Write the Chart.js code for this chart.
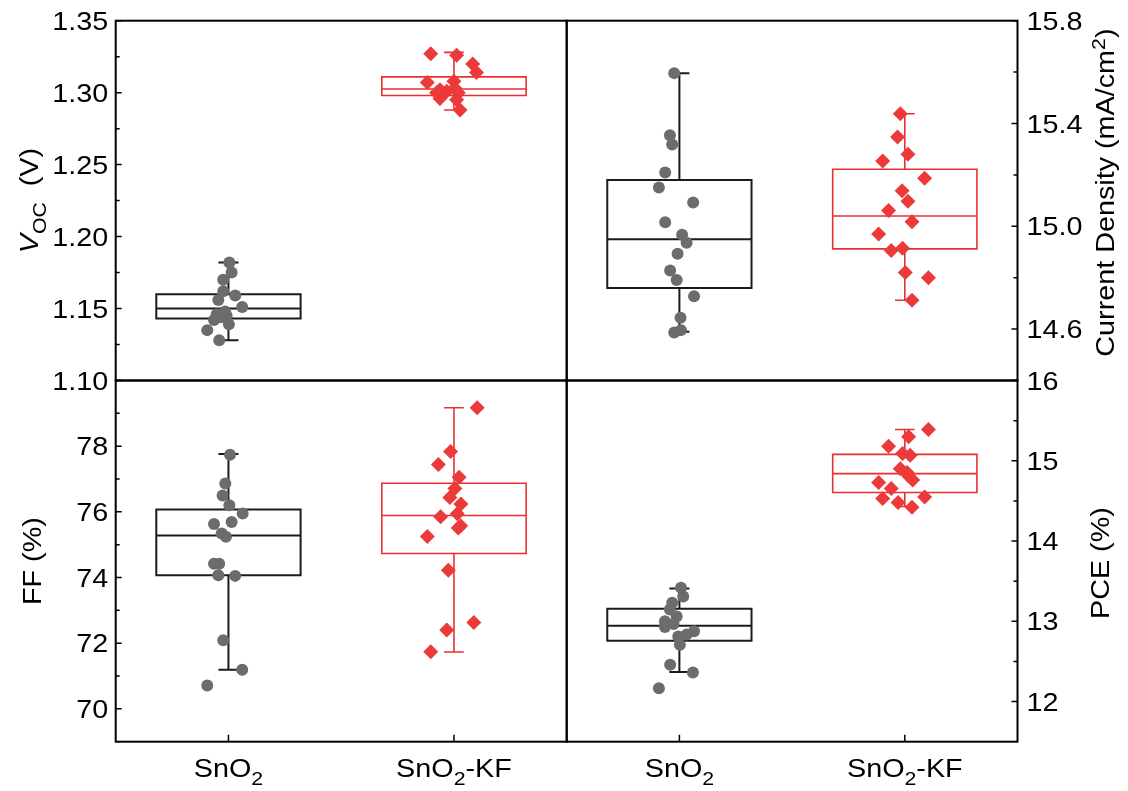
<!DOCTYPE html>
<html>
<head>
<meta charset="utf-8">
<script src="https://cdn.jsdelivr.net/npm/chart.js@4.4.1/dist/chart.umd.min.js"></script>
<style>
  body { margin: 0; background: #fff; }
  #wrap { position: relative; width: 1128px; height: 791px; }
  #wrap canvas { position: absolute; left: 0; top: 0; }
</style>
</head>
<body>
<div id="wrap">
  <canvas id="voc" width="1128" height="791"></canvas>
  <canvas id="jsc" width="1128" height="791"></canvas>
  <canvas id="ff" width="1128" height="791"></canvas>
  <canvas id="pce" width="1128" height="791"></canvas>
</div>
<script>
// --- data ---
const categories = ['SnO₂', 'SnO₂-KF'];

// box stats: [lower whisker, Q1, median, Q3, upper whisker]
const vocBoxSnO2 = [1.128, 1.143, 1.150, 1.160, 1.182];
const vocBoxKF   = [1.288, 1.298, 1.3025, 1.311, 1.328];
const jscBoxSnO2 = [14.59, 14.76, 14.95, 15.18, 15.596];
const jscBoxKF   = [14.712, 14.912, 15.04, 15.222, 15.438];
const ffBoxSnO2  = [71.19, 74.07, 75.28, 76.07, 77.76];
const ffBoxKF    = [71.73, 74.73, 75.89, 76.87, 79.17];
const pceBoxSnO2 = [12.367, 12.759, 12.946, 13.155, 13.41];
const pceBoxKF   = [14.43, 14.605, 14.84, 15.08, 15.39];

// individual devices, with horizontal jitter (category units)
const vocSnO2 = [1.182, 1.175, 1.170, 1.162, 1.159, 1.156, 1.151, 1.148, 1.146, 1.145, 1.142, 1.139, 1.135, 1.128, 1.144];
const vocJitSnO2 = [0.004, 0.014, -0.023, -0.023, 0.030, -0.045, 0.061, -0.015, -0.052, -0.008, -0.064, 0.002, -0.094, -0.041, -0.033];
const vocKF = [1.327, 1.326, 1.320, 1.314, 1.307, 1.308, 1.302, 1.301, 1.303, 1.300, 1.296, 1.295, 1.288, 1.300];
const vocJitKF = [-0.103, 0.012, 0.083, 0.100, -0.118, 0.000, -0.062, -0.032, 0.004, 0.019, -0.062, 0.012, 0.027, -0.077];

const jscSnO2 = [15.596, 15.354, 15.318, 15.209, 15.151, 15.093, 15.016, 14.967, 14.936, 14.893, 14.828, 14.791, 14.728, 14.644, 14.596, 14.587];
const jscJitSnO2 = [-0.023, -0.042, -0.032, -0.063, -0.091, 0.061, -0.063, 0.012, 0.032, -0.008, -0.041, -0.012, 0.065, 0.005, 0.007, -0.023];
const jscKF = [15.438, 15.347, 15.28, 15.254, 15.187, 15.138, 15.097, 15.061, 15.018, 14.97, 14.906, 14.915, 14.82, 14.80, 14.712];
const jscJitKF = [-0.020, -0.032, 0.014, -0.098, 0.088, -0.012, 0.014, -0.072, 0.032, -0.116, -0.060, -0.010, 0.002, 0.105, 0.032];

const ffSnO2 = [77.74, 76.86, 76.50, 76.20, 75.95, 75.63, 75.69, 75.34, 75.24, 74.42, 74.42, 74.07, 74.05, 72.09, 71.19, 70.71];
const ffJitSnO2 = [0.007, -0.014, -0.026, 0.004, 0.063, -0.064, 0.014, -0.030, -0.011, -0.064, -0.041, -0.045, 0.030, -0.023, 0.061, -0.094];
const ffKF = [79.17, 77.84, 77.44, 77.05, 76.71, 76.44, 76.24, 75.85, 75.94, 75.51, 75.58, 75.25, 74.22, 72.63, 72.40, 71.74];
const ffJitKF = [0.103, -0.015, -0.069, 0.023, 0.004, -0.018, 0.031, -0.059, 0.015, 0.019, 0.030, -0.118, -0.025, 0.088, -0.032, -0.103];

const pceSnO2 = [13.417, 13.31, 13.23, 13.146, 13.06, 13.0, 12.967, 12.93, 12.875, 12.834, 12.81, 12.709, 12.459, 12.363, 12.167];
const pceJitSnO2 = [0.007, 0.017, -0.032, -0.042, -0.012, -0.064, -0.026, -0.064, 0.065, 0.032, -0.005, 0.002, -0.041, 0.060, -0.091];
const pceKF = [15.39, 15.30, 15.18, 15.09, 15.07, 14.90, 14.855, 14.81, 14.76, 14.73, 14.655, 14.53, 14.55, 14.48, 14.42];
const pceJitKF = [0.105, 0.017, -0.072, -0.010, 0.024, -0.020, 0.010, 0.017, 0.035, -0.116, -0.060, -0.098, 0.088, -0.030, 0.032];

// tick labels
const vocTicks = [1.10, 1.15, 1.20, 1.25, 1.30, 1.35];
const jscTicks = [14.6, 15.0, 15.4, 15.8];
const ffTicks  = [70, 72, 74, 76, 78];
const pceTicks = [12, 13, 14, 15, 16];

// --- styling ---
const FONT = '"Liberation Sans", Arial, Helvetica, sans-serif';
const FS = 25;
const SX = 1.15;   // the original lettering runs a bit wider than Arial
const GREY = '#6c6c6c';
const RED = '#ec3a3a';
const BOX_W = 0.32;
const CAP_W = 0.04;

function toSegs(str) {
  const segs = [];
  let buf = '';
  for (const ch of str) {
    if (ch === '₂' || ch === '²') {
      if (buf) segs.push({ t: buf });
      buf = '';
      segs.push({ t: '2', s: ch === '₂' ? 'sub' : 'sup' });
    } else buf += ch;
  }
  if (buf) segs.push({ t: buf });
  return segs;
}

// draws mixed normal/sub/sup text centred on cx, baseline at base
function drawRich(ctx, segs, cx, base, size) {
  let w = 0;
  const parts = segs.map(sg => {
    const fs = sg.s ? size * 0.74 : size;
    const font = (sg.i ? 'italic ' : '') + fs + 'px ' + FONT;
    ctx.font = font;
    const pw = ctx.measureText(sg.t).width;
    w += pw;
    const dy = sg.s === 'sub' ? size * 0.32 : sg.s === 'sup' ? -size * 0.38 : 0;
    return { t: sg.t, font, pw, dy };
  });
  ctx.save();
  ctx.translate(cx, base);
  ctx.scale(SX, 1);
  let xx = -w / 2;
  ctx.textAlign = 'left';
  ctx.textBaseline = 'alphabetic';
  parts.forEach(p => {
    ctx.font = p.font;
    ctx.fillText(p.t, xx, p.dy);
    xx += p.pw;
  });
  ctx.restore();
}

// frame, inward ticks, tick labels, titles and category labels
const panelDeco = {
  id: 'panelDeco',
  afterDraw(chart, args, o) {
    const { ctx, chartArea: a, scales: { x, y } } = chart;
    ctx.save();
    ctx.strokeStyle = '#000';
    ctx.fillStyle = '#000';

    const major = y.ticks.map(t => t.value);
    const step = major[1] - major[0];
    const minor = [];
    for (let v = major[0] - step / 2; v < y.max + 1e-9; v += step) {
      if (v > y.min + 1e-6 && v < y.max - 1e-6) minor.push(v);
    }
    const left = o.side === 'left';
    const x0 = left ? a.left : a.right;
    const dir = left ? 1 : -1;
    ctx.lineWidth = 1.5;
    ctx.beginPath();
    major.forEach(v => {
      const py = y.getPixelForValue(v);
      ctx.moveTo(x0, py); ctx.lineTo(x0 + dir * 6, py);
    });
    minor.forEach(v => {
      const py = y.getPixelForValue(v);
      ctx.moveTo(x0, py); ctx.lineTo(x0 + dir * 4, py);
    });
    if (o.showCats) {
      categories.forEach((c, i) => {
        const px = x.getPixelForValue(i + 1);
        ctx.moveTo(px, a.bottom); ctx.lineTo(px, a.bottom - 7);
      });
    }
    ctx.stroke();

    ctx.lineWidth = 2;
    ctx.strokeRect(a.left, a.top, a.right - a.left, a.bottom - a.top);

    // tick labels
    ctx.font = FS + 'px ' + FONT;
    ctx.textBaseline = 'alphabetic';
    ctx.textAlign = left ? 'right' : 'left';
    major.forEach(v => {
      const py = y.getPixelForValue(v);
      ctx.save();
      ctx.translate(left ? a.left - 7.5 : a.right + 9, py + FS * 0.36);
      ctx.scale(SX, 1);
      ctx.fillText(v.toFixed(o.dec), 0, 0);
      ctx.restore();
    });

    if (o.showCats) {
      categories.forEach((c, i) => {
        drawRich(ctx, toSegs(c), x.getPixelForValue(i + 1), a.bottom + 35, FS);
      });
    }

    ctx.translate(o.titleX, (a.top + a.bottom) / 2 + (o.titleShift || 0));
    ctx.rotate(-Math.PI / 2);
    drawRich(ctx, o.title, 0, FS * 0.36, FS);
    ctx.restore();
  }
};

function boxPath(c, s) {
  const [lo, q1, med, q3, hi] = s;
  const gap = { x: c, y: null };
  return [
    { x: c - BOX_W, y: q1 }, { x: c + BOX_W, y: q1 }, { x: c + BOX_W, y: q3 }, { x: c - BOX_W, y: q3 }, { x: c - BOX_W, y: q1 }, gap,
    { x: c - BOX_W, y: med }, { x: c + BOX_W, y: med }, gap,
    { x: c, y: q3 }, { x: c, y: hi }, gap,
    { x: c, y: q1 }, { x: c, y: lo }, gap,
    { x: c - CAP_W, y: hi }, { x: c + CAP_W, y: hi }, gap,
    { x: c - CAP_W, y: lo }, { x: c + CAP_W, y: lo }
  ];
}

function makePanel(id, p) {
  const groups = [
    { vals: p.vals[0], jit: p.jit[0], box: p.box[0], line: '#1b1b1b', lw: 2, fill: GREY, style: 'circle', r: 6 },
    { vals: p.vals[1], jit: p.jit[1], box: p.box[1], line: '#ea2f2f', lw: 1.6, fill: RED, style: 'rectRot', r: 7.5 }
  ];
  const datasets = [];
  groups.forEach((g, i) => {
    datasets.push({
      type: 'line',
      data: boxPath(i + 1, g.box),
      borderColor: g.line,
      borderWidth: g.lw,
      borderJoinStyle: 'miter',
      borderCapStyle: 'square',
      pointRadius: 0,
      tension: 0,
      fill: false,
      spanGaps: false,
      order: 2
    });
    datasets.push({
      type: 'scatter',
      data: g.vals.map((v, k) => ({ x: i + 1 + g.jit[k], y: v })),
      pointStyle: g.style,
      pointRadius: g.r,
      pointHoverRadius: g.r,
      backgroundColor: g.fill,
      borderColor: g.fill,
      borderWidth: 0,
      order: 1
    });
  });

  new Chart(document.getElementById(id), {
    type: 'scatter',
    data: { datasets },
    options: {
      responsive: false,
      animation: false,
      devicePixelRatio: 1,
      layout: { padding: p.pad },
      plugins: {
        legend: { display: false },
        tooltip: { enabled: false },
        panelDeco: { side: p.side, title: p.title, titleX: p.titleX, titleShift: p.titleShift, showCats: p.showCats, dec: p.dec }
      },
      scales: {
        x: { type: 'linear', min: 0.5, max: 2.5, display: false },
        y: {
          type: 'linear',
          position: p.side,
          min: p.min,
          max: p.max,
          afterBuildTicks: s => { s.ticks = p.ticks.map(v => ({ value: v })); },
          afterFit: s => { s.width = p.axisW; },
          grid: { display: false, drawTicks: false },
          border: { display: false },
          ticks: { display: false }
        }
      }
    },
    plugins: [panelDeco]
  });
}

const L = 115.7, M = 566.7, R = 1017.5, T = 20.7, H = 380.5, B = 741.7;

makePanel('voc', {
  side: 'left', vals: [vocSnO2, vocKF], jit: [vocJitSnO2, vocJitKF], box: [vocBoxSnO2, vocBoxKF],
  min: 1.10, max: 1.35, ticks: vocTicks, dec: 2, axisW: L,
  pad: { left: 0, right: 1128 - M, top: T, bottom: 791 - H },
  title: [{ t: 'V', i: true }, { t: 'OC', s: 'sub' }, { t: '  (V)' }], titleX: 29, showCats: false
});
makePanel('jsc', {
  side: 'right', vals: [jscSnO2, jscKF], jit: [jscJitSnO2, jscJitKF], box: [jscBoxSnO2, jscBoxKF],
  min: 14.4, max: 15.8, ticks: jscTicks, dec: 1, axisW: 1128 - R,
  pad: { left: M, right: 0, top: T, bottom: 791 - H },
  title: toSegs('Current Density (mA/cm²)'), titleX: 1105, titleShift: -8, showCats: false
});
makePanel('ff', {
  side: 'left', vals: [ffSnO2, ffKF], jit: [ffJitSnO2, ffJitKF], box: [ffBoxSnO2, ffBoxKF],
  min: 69, max: 80, ticks: ffTicks, dec: 0, axisW: L,
  pad: { left: 0, right: 1128 - M, top: H, bottom: 791 - B },
  title: toSegs('FF (%)'), titleX: 32, showCats: true
});
makePanel('pce', {
  side: 'right', vals: [pceSnO2, pceKF], jit: [pceJitSnO2, pceJitKF], box: [pceBoxSnO2, pceBoxKF],
  min: 11.5, max: 16, ticks: pceTicks, dec: 0, axisW: 1128 - R,
  pad: { left: M, right: 0, top: H, bottom: 791 - B },
  title: toSegs('PCE (%)'), titleX: 1100, titleShift: 2, showCats: true
});
</script>
</body>
</html>
